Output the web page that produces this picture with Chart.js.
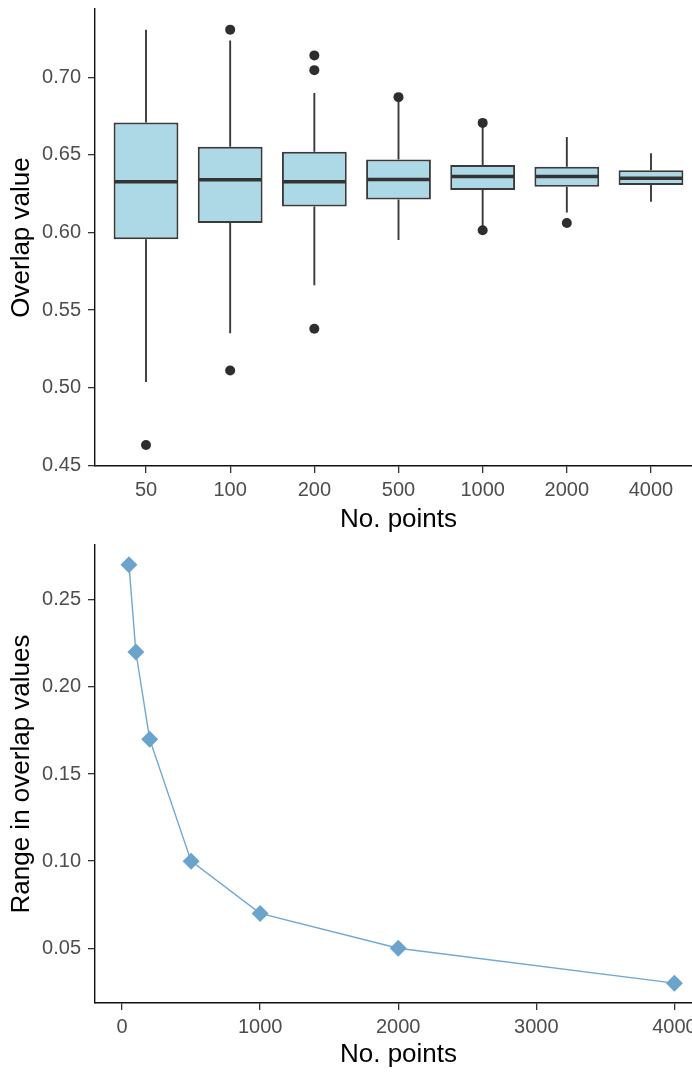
<!DOCTYPE html>
<html>
<head>
<meta charset="utf-8">
<script src="https://cdn.jsdelivr.net/npm/chart.js@4.4.1/dist/chart.umd.min.js"></script>
<style>
  body { margin: 0; background: #fff; width: 692px; height: 1072px; overflow: hidden; }
  canvas { display: block; }
</style>
</head>
<body>
<canvas id="boxchart" width="702" height="537"></canvas>
<canvas id="rangechart" width="702" height="535"></canvas>
<script>
// overlap values per sample size (box statistics)
const sizes = ['50', '100', '200', '500', '1000', '2000', '4000'];
const whiskerLow = [0.5037, 0.5351, 0.5660, 0.5952, 0.6036, 0.6129, 0.6198];
const q1 = [0.5957, 0.6061, 0.6167, 0.6213, 0.6273, 0.6295, 0.6306];
const medians = [0.6326, 0.6339, 0.6326, 0.6341, 0.6361, 0.6361, 0.6350];
const q3 = [0.6708, 0.6553, 0.6520, 0.6470, 0.6434, 0.6423, 0.6401];
const whiskerHigh = [0.7307, 0.7237, 0.6898, 0.6860, 0.6690, 0.6615, 0.6511];
const outliers = [[0.4630], [0.7307, 0.5110], [0.7141, 0.7046, 0.5380], [0.6872], [0.6706, 0.6014], [0.6061], []];
const overlapTicks = [0.45, 0.50, 0.55, 0.60, 0.65, 0.70];

// range of overlap values vs number of points
const nPoints = [50, 100, 200, 500, 1000, 2000, 4000];
const rangeValues = [0.27, 0.22, 0.17, 0.10, 0.07, 0.05, 0.03];
const rangeTicks = [0.05, 0.10, 0.15, 0.20, 0.25];
const pointTicks = [0, 1000, 2000, 3000, 4000];

const FONT = "'Liberation Sans', Arial, sans-serif";
const tickFont = { family: FONT, size: 20 };
const titleFont = { family: FONT, size: 26 };

// shared look for the axes (ggplot classic style)
function axisStyle(title, isX, height) {
  return {
    border: { display: true, color: '#111', width: 1.4 },
    grid: { display: true, drawOnChartArea: false, drawTicks: true, tickLength: 7, color: '#333', lineWidth: 1.3 },
    ticks: { font: tickFont, color: '#4d4d4d', padding: isX ? 5 : 7, maxRotation: 0, autoSkip: false },
    title: { display: true, text: title, font: titleFont, color: '#000', padding: isX ? { top: 0, bottom: 2 } : { top: 6, bottom: 0 } },
    afterFit(scale) {
      if (isX) scale.height = height; else scale.width = 95;
      scale.paddingTop = 0; scale.paddingBottom = 0;
      scale.paddingLeft = 0; scale.paddingRight = 0;
    }
  };
}

// whiskers under the boxes, medians on top
const boxLines = {
  id: 'boxLines',
  beforeDatasetsDraw(chart) {
    const { ctx, scales: { x, y } } = chart;
    ctx.save();
    ctx.strokeStyle = '#3a3a3a';
    ctx.lineWidth = 1.9;
    sizes.forEach((s, i) => {
      const px = x.getPixelForValue(i);
      ctx.beginPath();
      ctx.moveTo(px, y.getPixelForValue(whiskerLow[i]));
      ctx.lineTo(px, y.getPixelForValue(q1[i]));
      ctx.moveTo(px, y.getPixelForValue(q3[i]));
      ctx.lineTo(px, y.getPixelForValue(whiskerHigh[i]));
      ctx.stroke();
    });
    ctx.restore();
  },
  afterDatasetsDraw(chart) {
    const { ctx, scales: { y } } = chart;
    const meta = chart.getDatasetMeta(1);
    ctx.save();
    ctx.strokeStyle = '#333';
    ctx.lineWidth = 3.5;
    meta.data.forEach((bar, i) => {
      const { x, width } = bar.getProps(['x', 'width'], true);
      const py = y.getPixelForValue(medians[i]);
      ctx.beginPath();
      ctx.moveTo(x - width / 2 + 1, py);
      ctx.lineTo(x + width / 2 - 1, py);
      ctx.stroke();
    });
    ctx.restore();
  }
};

const boxX = axisStyle('No. points', true, 71);
boxX.type = 'linear';
boxX.min = -0.606;
boxX.max = 6.606;
boxX.offset = false;
boxX.grid.offset = false;
boxX.afterBuildTicks = (scale) => { scale.ticks = sizes.map((s, i) => ({ value: i })); };
boxX.ticks.callback = (v) => sizes[v];

const boxY = axisStyle('Overlap value', false);
boxY.min = 0.4495;
boxY.max = 0.744;
boxY.beginAtZero = false;
boxY.afterBuildTicks = (scale) => { scale.ticks = overlapTicks.map(v => ({ value: v })); };
boxY.ticks.callback = (v) => v.toFixed(2);

new Chart(document.getElementById('boxchart'), {
  type: 'bar',
  data: {
    datasets: [
      {
        type: 'scatter',
        data: outliers.flatMap((vals, i) => vals.map(v => ({ x: i, y: v }))),
        pointRadius: 5,
        pointBackgroundColor: '#2e2e2e',
        pointBorderWidth: 0
      },
      {
        type: 'bar',
        data: sizes.map((s, i) => ({ x: i, y: [q1[i], q3[i]] })),
        backgroundColor: '#add8e6',
        borderColor: '#3a3a3a',
        borderWidth: 2,
        borderSkipped: false,
        categoryPercentage: 1,
        barPercentage: 0.77
      }
    ]
  },
  options: {
    responsive: false,
    animation: false,
    layout: { autoPadding: false, padding: { top: 9, left: 0, right: 0, bottom: 0 } },
    plugins: { legend: { display: false }, tooltip: { enabled: false } },
    scales: { x: boxX, y: boxY }
  },
  plugins: [boxLines]
});

// Range chart
const rangeX = axisStyle('No. points', true, 69);
rangeX.type = 'linear';
rangeX.min = -196;
rangeX.max = 4200;
rangeX.afterBuildTicks = (scale) => { scale.ticks = pointTicks.map(v => ({ value: v })); };
rangeX.ticks.callback = (v) => String(v);

const rangeY = axisStyle('Range in overlap values', false);
rangeY.min = 0.0186;
rangeY.max = 0.2814;
rangeY.afterBuildTicks = (scale) => { scale.ticks = rangeTicks.map(v => ({ value: v })); };
rangeY.ticks.callback = (v) => v.toFixed(2);

new Chart(document.getElementById('rangechart'), {
  type: 'line',
  data: {
    datasets: [{
      data: nPoints.map((n, i) => ({ x: n, y: rangeValues[i] })),
      borderColor: '#6fa8d0',
      borderWidth: 1.4,
      tension: 0,
      pointStyle: 'rectRot',
      pointRadius: 8.5,
      pointBackgroundColor: '#6aa4cd',
      pointBorderWidth: 0
    }]
  },
  options: {
    responsive: false,
    animation: false,
    layout: { autoPadding: false, padding: { top: 8, left: 0, right: 0, bottom: 0 } },
    plugins: { legend: { display: false }, tooltip: { enabled: false } },
    scales: { x: rangeX, y: rangeY }
  }
});
</script>
</body>
</html>
